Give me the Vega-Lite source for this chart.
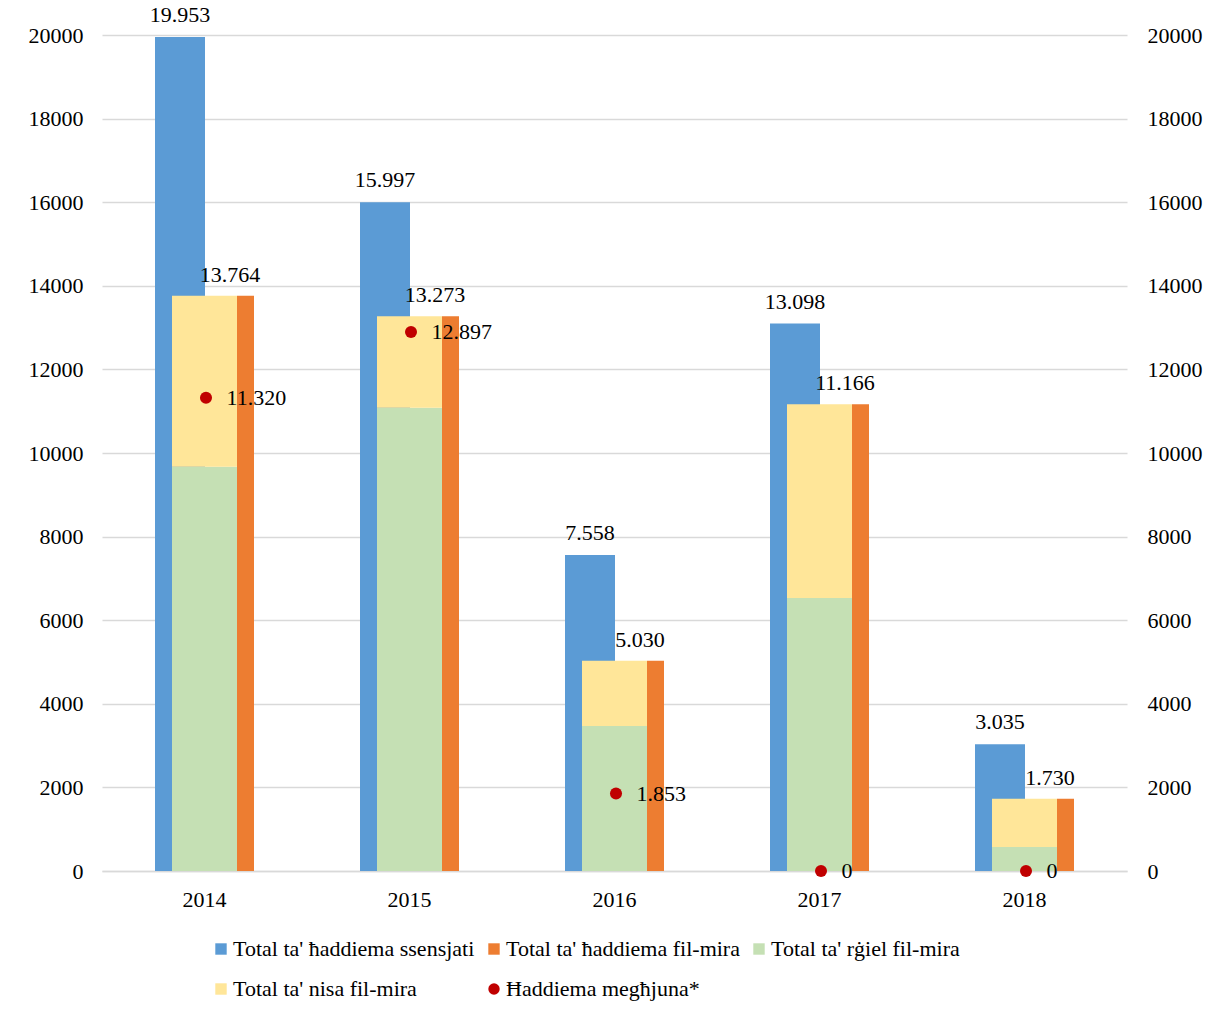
{
  "$schema": "https://vega.github.io/schema/vega-lite/v6.json",
  "width": 1025,
  "height": 836,
  "autosize": {"type": "none"},
  "padding": {"left": 102, "top": 35, "right": 87, "bottom": 139},
  "background": "white",
  "config": {
    "view": {"stroke": null},
    "font": "Liberation Serif",
    "locale": {"number": {"decimal": ",", "thousands": ".", "grouping": [3], "currency": ["", ""]}},
    "axis": {"labelFont": "Liberation Serif", "labelFontSize": 22, "labelColor": "#000000", "ticks": false, "title": null},
    "legend": {"labelFont": "Liberation Serif", "labelFontSize": 22, "labelColor": "#000000"}
  },
  "data": {
    "values": [
      {"year": "2014", "series": "Total ta' ħaddiema ssensjati", "value": 19953},
      {"year": "2014", "series": "Total ta' ħaddiema fil-mira", "value": 13764},
      {"year": "2014", "series": "Total ta' rġiel fil-mira", "value": 9670},
      {"year": "2014", "series": "Total ta' nisa fil-mira", "value": 4094},
      {"year": "2014", "series": "Ħaddiema megħjuna*", "value": 11320},
      {"year": "2015", "series": "Total ta' ħaddiema ssensjati", "value": 15997},
      {"year": "2015", "series": "Total ta' ħaddiema fil-mira", "value": 13273},
      {"year": "2015", "series": "Total ta' rġiel fil-mira", "value": 11080},
      {"year": "2015", "series": "Total ta' nisa fil-mira", "value": 2193},
      {"year": "2015", "series": "Ħaddiema megħjuna*", "value": 12897},
      {"year": "2016", "series": "Total ta' ħaddiema ssensjati", "value": 7558},
      {"year": "2016", "series": "Total ta' ħaddiema fil-mira", "value": 5030},
      {"year": "2016", "series": "Total ta' rġiel fil-mira", "value": 3470},
      {"year": "2016", "series": "Total ta' nisa fil-mira", "value": 1560},
      {"year": "2016", "series": "Ħaddiema megħjuna*", "value": 1853},
      {"year": "2017", "series": "Total ta' ħaddiema ssensjati", "value": 13098},
      {"year": "2017", "series": "Total ta' ħaddiema fil-mira", "value": 11166},
      {"year": "2017", "series": "Total ta' rġiel fil-mira", "value": 6530},
      {"year": "2017", "series": "Total ta' nisa fil-mira", "value": 4636},
      {"year": "2017", "series": "Ħaddiema megħjuna*", "value": 0},
      {"year": "2018", "series": "Total ta' ħaddiema ssensjati", "value": 3035},
      {"year": "2018", "series": "Total ta' ħaddiema fil-mira", "value": 1730},
      {"year": "2018", "series": "Total ta' rġiel fil-mira", "value": 575},
      {"year": "2018", "series": "Total ta' nisa fil-mira", "value": 1155},
      {"year": "2018", "series": "Ħaddiema megħjuna*", "value": 0}
    ]
  },
  "encoding": {
    "x": {
      "field": "year",
      "type": "ordinal",
      "scale": {"paddingInner": 0, "paddingOuter": 0},
      "axis": {"labelAngle": 0, "domainColor": "#D9D9D9", "domainWidth": 1.5, "labelPadding": 18, "title": null}
    }
  },
  "layer": [
    {
      "encoding": {
        "y": {
          "field": "value",
          "type": "quantitative",
          "scale": {"domain": [0, 20000], "nice": false},
          "axis": {"values": [0, 2000, 4000, 6000, 8000, 10000, 12000, 14000, 16000, 18000, 20000], "format": "d", "domain": false, "gridColor": "#D9D9D9", "gridWidth": 1.5, "labelPadding": 19, "title": null}
        }
      },
      "layer": [
        {
          "transform": [{"filter": "datum.series === \"Total ta' ħaddiema ssensjati\""}],
          "mark": {"type": "bar", "width": 50, "xOffset": -24.5},
          "encoding": {
            "color": {
              "field": "series",
              "type": "nominal",
              "scale": {
                "domain": ["Total ta' ħaddiema ssensjati", "Total ta' ħaddiema fil-mira", "Total ta' rġiel fil-mira", "Total ta' nisa fil-mira", "Ħaddiema megħjuna*"],
                "range": ["#5B9BD5", "#ED7D31", "#C5E0B4", "#FFE699", "#C00000"]
              },
              "legend": {"orient": "none", "legendX": 108, "legendY": 903, "direction": "horizontal", "columns": 3, "title": null, "symbolSize": 130, "labelOffset": 1, "columnPadding": 8, "rowPadding": 18, "padding": 0, "symbolStrokeWidth": 0, "labelLimit": 400}
            }
          }
        },
        {
          "transform": [{"filter": "datum.series === \"Total ta' rġiel fil-mira\" || datum.series === \"Total ta' nisa fil-mira\""}],
          "mark": {"type": "bar", "width": 65},
          "encoding": {
            "color": {"field": "series", "type": "nominal"},
            "order": {"field": "series", "sort": "descending"}
          }
        },
        {
          "transform": [{"filter": "datum.series === \"Total ta' ħaddiema fil-mira\""}],
          "mark": {"type": "bar", "width": 17, "xOffset": 41},
          "encoding": {
            "color": {"field": "series", "type": "nominal"}
          }
        },
        {
          "transform": [{"filter": "datum.series === \"Ħaddiema megħjuna*\""}],
          "mark": {"type": "point", "filled": true, "size": 145, "opacity": 1, "xOffset": 1.5},
          "encoding": {
            "color": {"field": "series", "type": "nominal"},
            "shape": {
              "field": "series",
              "type": "nominal",
              "scale": {
                "domain": ["Total ta' ħaddiema ssensjati", "Total ta' ħaddiema fil-mira", "Total ta' rġiel fil-mira", "Total ta' nisa fil-mira", "Ħaddiema megħjuna*"],
                "range": ["square", "square", "square", "square", "circle"]
              },
              "legend": {"orient": "none", "legendX": 108, "legendY": 903, "direction": "horizontal", "columns": 3, "title": null, "symbolSize": 130, "labelOffset": 1, "columnPadding": 8, "rowPadding": 18, "padding": 0, "symbolStrokeWidth": 0, "labelLimit": 400}
            }
          }
        },
        {
          "transform": [{"filter": "datum.series === \"Ħaddiema megħjuna*\""}],
          "mark": {"type": "text", "align": "left", "baseline": "middle", "dx": 22, "fontSize": 22, "font": "Liberation Serif", "color": "#000000"},
          "encoding": {"text": {"field": "value", "type": "quantitative", "format": ","}}
        },
        {
          "transform": [{"filter": "datum.series === \"Total ta' ħaddiema ssensjati\""}],
          "mark": {"type": "text", "align": "center", "baseline": "alphabetic", "dx": -24.5, "dy": -15, "fontSize": 22, "font": "Liberation Serif", "color": "#000000"},
          "encoding": {"text": {"field": "value", "type": "quantitative", "format": ","}}
        },
        {
          "transform": [{"filter": "datum.series === \"Total ta' ħaddiema fil-mira\""}],
          "mark": {"type": "text", "align": "center", "baseline": "alphabetic", "dx": 25.5, "dy": -14, "fontSize": 22, "font": "Liberation Serif", "color": "#000000"},
          "encoding": {"text": {"field": "value", "type": "quantitative", "format": ","}}
        }
      ]
    },
    {
      "transform": [{"filter": "datum.series === \"Total ta' ħaddiema ssensjati\""}],
      "mark": {"type": "point", "opacity": 0},
      "encoding": {
        "y": {
          "field": "value",
          "type": "quantitative",
          "scale": {"domain": [0, 20000], "nice": false},
          "axis": {"orient": "right", "values": [0, 2000, 4000, 6000, 8000, 10000, 12000, 14000, 16000, 18000, 20000], "format": "d", "domain": false, "grid": false, "labelPadding": 20, "title": null}
        }
      }
    }
  ],
  "resolve": {"scale": {"y": "independent"}}
}
